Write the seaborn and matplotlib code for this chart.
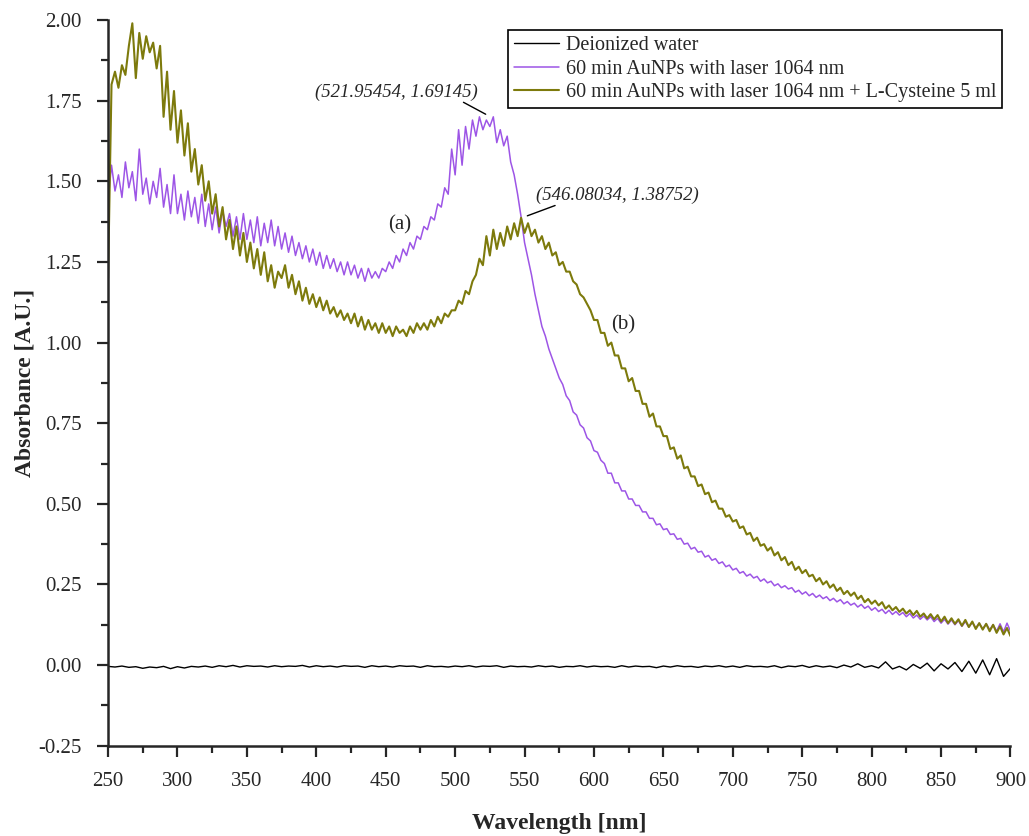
import numpy as np
import pandas as pd
import matplotlib
matplotlib.use('Agg')
import matplotlib.pyplot as plt
import seaborn as sns

# wavelength grids (nm)
wavelength = np.arange(250, 900.1, 2.5)
water_wavelength = np.arange(250, 901, 5)

# (b) 60 min AuNPs + L-Cysteine (2.5 nm steps)
cysteine = [1.20, 1.80, 1.84, 1.79, 1.86, 1.83, 1.92, 1.99, 1.82, 1.96,
            1.88, 1.95, 1.90, 1.93, 1.85, 1.92, 1.70, 1.84, 1.66, 1.78,
            1.62, 1.72, 1.58, 1.68, 1.53, 1.60, 1.49, 1.55, 1.44, 1.50,
            1.40, 1.46, 1.36, 1.42, 1.32, 1.38, 1.29, 1.36, 1.27, 1.34,
            1.25, 1.31, 1.23, 1.29, 1.21, 1.28, 1.19, 1.24, 1.17, 1.22,
            1.20, 1.24, 1.17, 1.21, 1.15, 1.19, 1.13, 1.17, 1.12, 1.15,
            1.11, 1.14, 1.10, 1.13, 1.09, 1.11, 1.08, 1.10, 1.07, 1.09,
            1.06, 1.09, 1.05, 1.08, 1.04, 1.07, 1.04, 1.06, 1.03, 1.06,
            1.03, 1.05, 1.02, 1.05, 1.03, 1.04, 1.02, 1.05, 1.03, 1.06,
            1.04, 1.06, 1.04, 1.07, 1.05, 1.08, 1.06, 1.09, 1.08, 1.10,
            1.10, 1.13, 1.12, 1.16, 1.15, 1.19, 1.21, 1.26, 1.24, 1.33,
            1.27, 1.35, 1.29, 1.34, 1.30, 1.36, 1.32, 1.37, 1.33, 1.387,
            1.34, 1.37, 1.33, 1.35, 1.31, 1.33, 1.29, 1.31, 1.27, 1.28,
            1.24, 1.25, 1.22, 1.22, 1.19, 1.18, 1.15, 1.14, 1.12, 1.10,
            1.07, 1.07, 1.03, 1.03, 0.99, 1.00, 0.96, 0.96, 0.92, 0.92,
            0.88, 0.89, 0.85, 0.85, 0.81, 0.81, 0.77, 0.78, 0.74, 0.74,
            0.71, 0.71, 0.67, 0.675, 0.64, 0.65, 0.61, 0.615, 0.585, 0.585,
            0.555, 0.56, 0.53, 0.535, 0.505, 0.51, 0.485, 0.485, 0.46, 0.465,
            0.445, 0.45, 0.425, 0.43, 0.405, 0.41, 0.385, 0.395, 0.37, 0.375,
            0.355, 0.365, 0.34, 0.35, 0.325, 0.335, 0.31, 0.32, 0.295, 0.305,
            0.285, 0.295, 0.275, 0.28, 0.26, 0.27, 0.25, 0.26, 0.24, 0.25,
            0.23, 0.24, 0.22, 0.23, 0.215, 0.225, 0.205, 0.215, 0.195, 0.205,
            0.19, 0.20, 0.185, 0.195, 0.175, 0.185, 0.17, 0.18, 0.165, 0.175,
            0.16, 0.17, 0.155, 0.168, 0.15, 0.16, 0.145, 0.158, 0.142, 0.155,
            0.135, 0.15, 0.13, 0.145, 0.128, 0.142, 0.122, 0.14, 0.118, 0.135,
            0.112, 0.13, 0.11, 0.128, 0.105, 0.125, 0.10, 0.12, 0.095, 0.115,
            0.09]

# (a) 60 min AuNPs with laser 1064 nm (2.5 nm steps)
aunps = [1.44, 1.55, 1.47, 1.52, 1.45, 1.56, 1.48, 1.53, 1.44, 1.60,
         1.46, 1.51, 1.43, 1.50, 1.45, 1.54, 1.42, 1.49, 1.40, 1.52,
         1.40, 1.46, 1.38, 1.47, 1.39, 1.45, 1.37, 1.46, 1.36, 1.43,
         1.35, 1.42, 1.34, 1.41, 1.36, 1.40, 1.33, 1.39, 1.32, 1.40,
         1.32, 1.38, 1.31, 1.39, 1.30, 1.37, 1.31, 1.38, 1.30, 1.36,
         1.29, 1.34, 1.28, 1.33, 1.27, 1.31, 1.26, 1.30, 1.25, 1.29,
         1.24, 1.28, 1.23, 1.27, 1.23, 1.26, 1.22, 1.25, 1.21, 1.25,
         1.21, 1.24, 1.20, 1.23, 1.19, 1.23, 1.20, 1.22, 1.20, 1.23,
         1.22, 1.25, 1.23, 1.27, 1.25, 1.29, 1.27, 1.31, 1.29, 1.33,
         1.32, 1.36, 1.35, 1.39, 1.38, 1.43, 1.42, 1.48, 1.46, 1.60,
         1.52, 1.66, 1.55, 1.67, 1.60, 1.69, 1.64, 1.70, 1.66, 1.69,
         1.67, 1.70, 1.62, 1.66, 1.61, 1.64, 1.56, 1.52, 1.46, 1.39,
         1.31, 1.26, 1.21, 1.15, 1.10, 1.05, 1.02, 0.98, 0.95, 0.92,
         0.89, 0.87, 0.835, 0.82, 0.785, 0.775, 0.745, 0.735, 0.705, 0.695,
         0.665, 0.66, 0.635, 0.625, 0.595, 0.595, 0.565, 0.565, 0.54, 0.54,
         0.515, 0.515, 0.495, 0.495, 0.475, 0.475, 0.455, 0.455, 0.435, 0.438,
         0.42, 0.423, 0.405, 0.407, 0.39, 0.393, 0.375, 0.378, 0.36, 0.365,
         0.35, 0.353, 0.335, 0.34, 0.325, 0.33, 0.315, 0.32, 0.305, 0.31,
         0.295, 0.30, 0.285, 0.29, 0.276, 0.282, 0.27, 0.275, 0.26, 0.267,
         0.255, 0.26, 0.246, 0.252, 0.24, 0.246, 0.236, 0.24, 0.226, 0.232,
         0.22, 0.227, 0.215, 0.222, 0.21, 0.217, 0.206, 0.212, 0.20, 0.207,
         0.196, 0.203, 0.19, 0.197, 0.186, 0.192, 0.18, 0.188, 0.176, 0.183,
         0.17, 0.178, 0.166, 0.173, 0.16, 0.17, 0.157, 0.166, 0.155, 0.163,
         0.15, 0.16, 0.146, 0.155, 0.142, 0.152, 0.14, 0.15, 0.135, 0.145,
         0.13, 0.142, 0.127, 0.14, 0.125, 0.138, 0.12, 0.135, 0.118, 0.132,
         0.115, 0.13, 0.112, 0.128, 0.11, 0.125, 0.105, 0.128, 0.103, 0.13,
         0.105]

# deionized water baseline (5 nm steps)
water = [-0.004, -0.006, -0.003, -0.007, -0.005, -0.010, -0.006, -0.008, -0.004, -0.011,
         -0.005, -0.009, -0.004, -0.006, -0.003, -0.007, -0.002, -0.005, -0.001, -0.006,
         -0.002, -0.004, -0.003, -0.006, -0.002, -0.005, -0.003, -0.004, -0.001, -0.006,
         -0.002, -0.005, -0.003, -0.006, -0.002, -0.004, -0.003, -0.007, -0.002, -0.005,
         -0.003, -0.006, -0.002, -0.004, -0.003, -0.007, -0.002, -0.005, -0.004, -0.006,
         -0.003, -0.005, -0.002, -0.006, -0.003, -0.004, -0.002, -0.007, -0.003, -0.005,
         -0.004, -0.006, -0.002, -0.005, -0.003, -0.007, -0.004, -0.005, -0.002, -0.006,
         -0.003, -0.005, -0.004, -0.007, -0.002, -0.006, -0.003, -0.005, -0.004, -0.008,
         -0.003, -0.006, -0.002, -0.005, -0.004, -0.007, -0.003, -0.005, -0.002, -0.006,
         -0.003, -0.007, -0.002, -0.005, -0.004, -0.006, -0.002, -0.008, -0.003, -0.005,
         -0.001, -0.007, -0.002, -0.006, -0.003, -0.008, 0.000, -0.006, 0.004, -0.007,
         -0.002, -0.009, 0.010, -0.012, -0.004, -0.015, 0.002, -0.010, 0.006, -0.018,
         0.004, -0.012, 0.008, -0.020, 0.012, -0.025, 0.016, -0.030, 0.020, -0.035,
         -0.010]

sns.set_style('ticks')
plt.rcParams['font.family'] = ['Liberation Serif', 'DejaVu Serif']

fig = plt.figure(figsize=(10.29, 8.36), dpi=100)
ax = fig.add_axes([0.105, 0.108, 0.877, 0.868])

sns.lineplot(x=water_wavelength, y=water, color='black', lw=1.0, ax=ax, label='Deionized water')
sns.lineplot(x=wavelength, y=aunps, color='#9d55e6', lw=1.1, ax=ax,
             label='60 min AuNPs with laser 1064 nm')
sns.lineplot(x=wavelength, y=cysteine, color='#7d7a0c', lw=1.5, ax=ax,
             label='60 min AuNPs with laser 1064 nm + L-Cysteine 5 ml')

ax.set_xlim(250, 900)
ax.set_ylim(-0.25, 2.0)
ax.set_xticks(np.arange(250, 901, 50))
ax.set_xticks(np.arange(275, 900, 50), minor=True)
ax.set_yticks(np.arange(-0.25, 2.01, 0.25))
ax.set_yticks(np.arange(-0.125, 2.0, 0.25), minor=True)
ax.yaxis.set_major_formatter(matplotlib.ticker.FormatStrFormatter('%.2f'))
ax.tick_params(axis='both', which='major', length=8, width=1.6, labelsize=15, direction='out')
ax.tick_params(axis='x', which='major', pad=11)
ax.tick_params(axis='y', which='major', pad=11)
ax.tick_params(axis='both', which='minor', length=5, width=1.6, direction='out')
sns.despine(ax=ax)
for s in ['left', 'bottom']:
    ax.spines[s].set_linewidth(1.8)

ax.set_xlabel('Wavelength [nm]', fontsize=17, fontweight='bold', labelpad=16)
ax.set_ylabel('Absorbance [A.U.]', fontsize=17, fontweight='bold', labelpad=2)

# peak annotations
ax.text(458, 1.775, '(521.95454, 1.69145)', fontsize=13.5, style='italic', ha='center', va='center')
ax.plot([506, 522], [1.745, 1.708], color='black', lw=1)
ax.text(617, 1.456, '(546.08034, 1.38752)', fontsize=13.5, style='italic', ha='center', va='center')
ax.plot([572, 552], [1.425, 1.393], color='black', lw=1)
ax.text(460, 1.365, '(a)', fontsize=15, ha='center', va='center')
ax.text(621, 1.055, '(b)', fontsize=15, ha='center', va='center')

leg = ax.legend(loc='upper right', bbox_to_anchor=(0.991, 0.986), fontsize=14.5, frameon=True,
                fancybox=False, edgecolor='black', framealpha=1, handlelength=2.2,
                labelspacing=0.22, borderpad=0.3, handletextpad=0.35, borderaxespad=0)
leg.get_frame().set_linewidth(1.2)

plt.savefig('out.png', dpi=100)
